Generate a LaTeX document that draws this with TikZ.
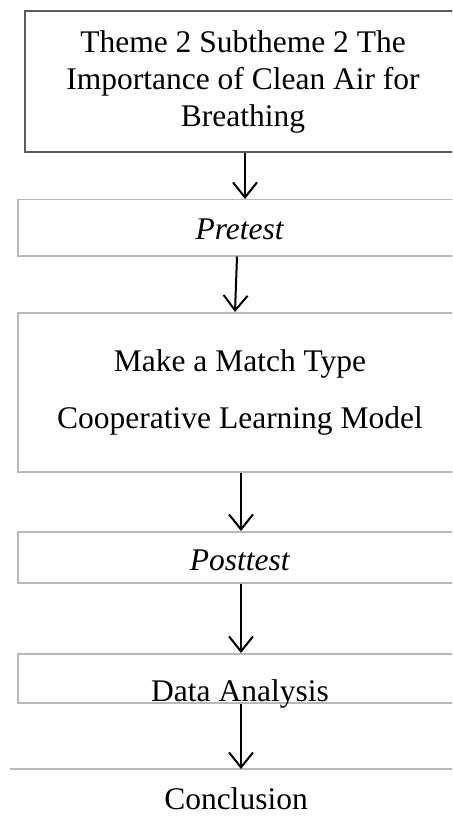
\documentclass[tikz,border=0pt]{standalone}
\usepackage{fontspec}
\setmainfont{Liberation Serif}
\usepackage{tikz}
\usetikzlibrary{arrows.meta}
\usetikzlibrary{positioning}
\tikzset{stepbox/.style = {draw = lgray, line width = 1.5pt, minimum width = 444pt, inner xsep = 0, inner ysep = 0.5pt, align = center, font = \fontsize{31.5}{37}\selectfont}}
\tikzset{flow/.style = {line width = 2pt, -{Straight Barb[length = 15pt, width = 24pt, line width = 2pt]}}}
\definecolor{lgray}{rgb}{0.72, 0.72, 0.72}
\definecolor{dgray}{rgb}{0.36, 0.36, 0.36}

\begin{document}
\begin{tikzpicture}[x = 1pt, y = -1pt]
    \useasboundingbox (0, 0) rectangle (452, 818);
    \clip (0, 0) rectangle (452, 818);
    \node [stepbox, draw = dgray, minimum width = 436pt, minimum height = 141pt] (theme) at (243, 81.5)
      {Theme 2 Subtheme 2 The\\Importance of Clean Air for\\Breathing};
    \node [stepbox, text height = 39.5pt, text depth = 15.5pt, anchor = north] (pretest) at (240, 199) {\textit{Pretest}};
    \node [stepbox, minimum height = 159pt, anchor = north] (model) at (240, 312)
      {Make a Match Type\\[20pt]Cooperative Learning Model};
    \node [stepbox, text height = 38pt, text depth = 12pt, anchor = north] (posttest) at (240, 531) {\textit{Posttest}};
    \node [stepbox, text height = 46pt, text depth = 0pt, inner ysep = 1.5pt, anchor = north] (analysis) at (240, 653) {Data Analysis};
    \node [stepbox, draw = none, minimum width = 450pt, text height = 40pt, text depth = 0pt, inner ysep = 0, anchor = north] (concl) at (236, 769) {Conclusion};
    \draw [lgray, line width = 1.5pt] (concl.north west) -- (concl.north east);
    \draw [flow] ([xshift = 2pt] theme.south) -- ([xshift = 5pt] pretest.north);
    \draw [flow] ([xshift = -3pt] pretest.south) -- ([xshift = -5pt] model.north);
    \draw [flow] ([xshift = 1pt] model.south) -- ([xshift = 1pt] posttest.north);
    \draw [flow] ([xshift = 1pt] posttest.south) -- ([xshift = 1pt] analysis.north);
    \draw [flow] ([xshift = 1pt] analysis.south) -- ([xshift = 5pt] concl.north);
  \end{tikzpicture}
\end{document}
